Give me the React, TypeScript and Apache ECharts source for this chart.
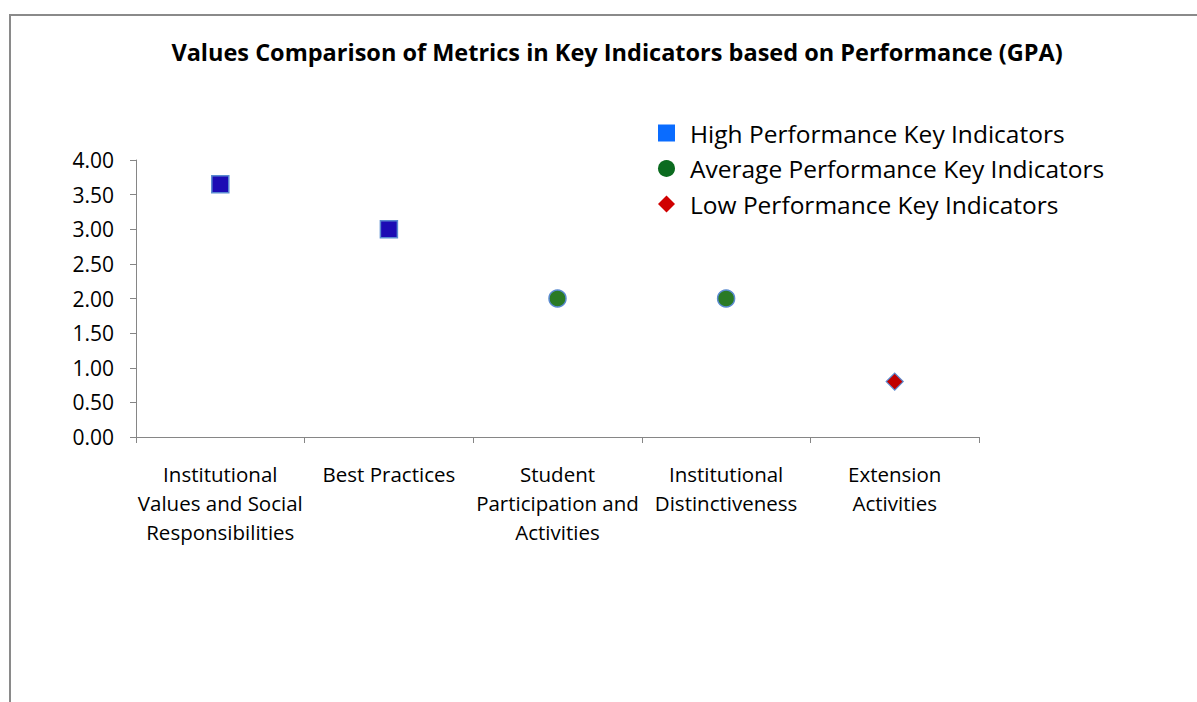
import React, { useEffect, useRef } from "react";
import * as echarts from "echarts";

const categories = [
  "Institutional\nValues and Social\nResponsibilities",
  "Best Practices",
  "Student\nParticipation and\nActivities",
  "Institutional\nDistinctiveness",
  "Extension\nActivities",
];
const highValues = [3.65, 3.0, "-", "-", "-"];
const averageValues = ["-", "-", 2.0, 2.0, "-"];
const lowValues = ["-", "-", "-", "-", 0.8];
const seriesNames = [
  "High Performance Key Indicators",
  "Average Performance Key Indicators",
  "Low Performance Key Indicators",
];
const titleText = "Values Comparison of Metrics in Key Indicators based on Performance (GPA)";

const FONT = "'Open Sans', Lato, sans-serif";

export default function App() {
  const ref = useRef<HTMLDivElement>(null);
  useEffect(() => {
    if (!ref.current) return;
    const chart = echarts.init(ref.current, null, { renderer: "svg" });
    chart.setOption({
      animation: false,
      backgroundColor: "#ffffff",
      textStyle: { fontFamily: FONT },
      title: {
        text: titleText,
        left: 612,
        textAlign: "center",
        top: 35,
        textStyle: { fontFamily: FONT, fontSize: 23.5, fontWeight: "bold", color: "#000" },
      },
      graphic: [
        {
          type: "rect",
          shape: { x: 10, y: 15, width: 1200, height: 700 },
          style: { fill: "none", stroke: "#8a8a8a", lineWidth: 2 },
          silent: true,
        },
      ],
      legend: {
        orient: "vertical",
        left: 653,
        top: 114,
        itemWidth: 17,
        itemHeight: 17,
        itemGap: 7.5,
        textStyle: {
          fontFamily: FONT,
          fontSize: 24.5,
          color: "#000",
          lineHeight: 28,
          padding: [0, 0, 0, 10],
        },
        data: [
          { name: seriesNames[0], icon: "rect", itemStyle: { color: "#0A6CFF", borderWidth: 0, opacity: 1 } },
          { name: seriesNames[1], icon: "circle", itemStyle: { color: "#0B6B1F", borderWidth: 0, opacity: 1 } },
          { name: seriesNames[2], icon: "diamond", itemStyle: { color: "#D00000", borderWidth: 0, opacity: 1 } },
        ],
      },
      grid: { left: 136, right: 218, top: 160, bottom: 265 },
      xAxis: {
        type: "category",
        data: categories,
        boundaryGap: true,
        axisLine: { show: true, lineStyle: { color: "#868686", width: 1 } },
        axisTick: { show: true, alignWithLabel: false, length: 6, lineStyle: { color: "#868686" } },
        axisLabel: {
          interval: 0,
          margin: 22,
          fontFamily: FONT,
          fontSize: 20.5,
          lineHeight: 29,
          color: "#000",
        },
        splitLine: { show: false },
      },
      yAxis: {
        type: "value",
        min: 0,
        max: 4,
        interval: 0.5,
        axisLine: { show: true, lineStyle: { color: "#868686", width: 1 } },
        axisTick: { show: true, length: 6, lineStyle: { color: "#868686" } },
        axisLabel: {
          margin: 22,
          fontFamily: FONT,
          fontSize: 21,
          color: "#000",
          formatter: (v: number) => v.toFixed(2),
        },
        splitLine: { show: false },
      },
      series: [
        {
          name: seriesNames[0],
          type: "scatter",
          data: highValues,
          symbol: "rect",
          symbolSize: 17,
          itemStyle: { color: "#1C0CB4", borderColor: "#5A8AD0", borderWidth: 1.5, opacity: 1 },
        },
        {
          name: seriesNames[1],
          type: "scatter",
          data: averageValues,
          symbol: "circle",
          symbolSize: 17,
          itemStyle: { color: "#2A7A25", borderColor: "#5A8AD0", borderWidth: 1.5, opacity: 1 },
        },
        {
          name: seriesNames[2],
          type: "scatter",
          data: lowValues,
          symbol: "diamond",
          symbolSize: 17,
          itemStyle: { color: "#C00000", borderColor: "#5A8AD0", borderWidth: 1.2, opacity: 1 },
        },
      ],
    });
    return () => chart.dispose();
  }, []);
  return (
    <div
      ref={ref}
      style={{ position: "fixed", left: 0, top: 0, width: 1197, height: 702 }}
    />
  );
}
